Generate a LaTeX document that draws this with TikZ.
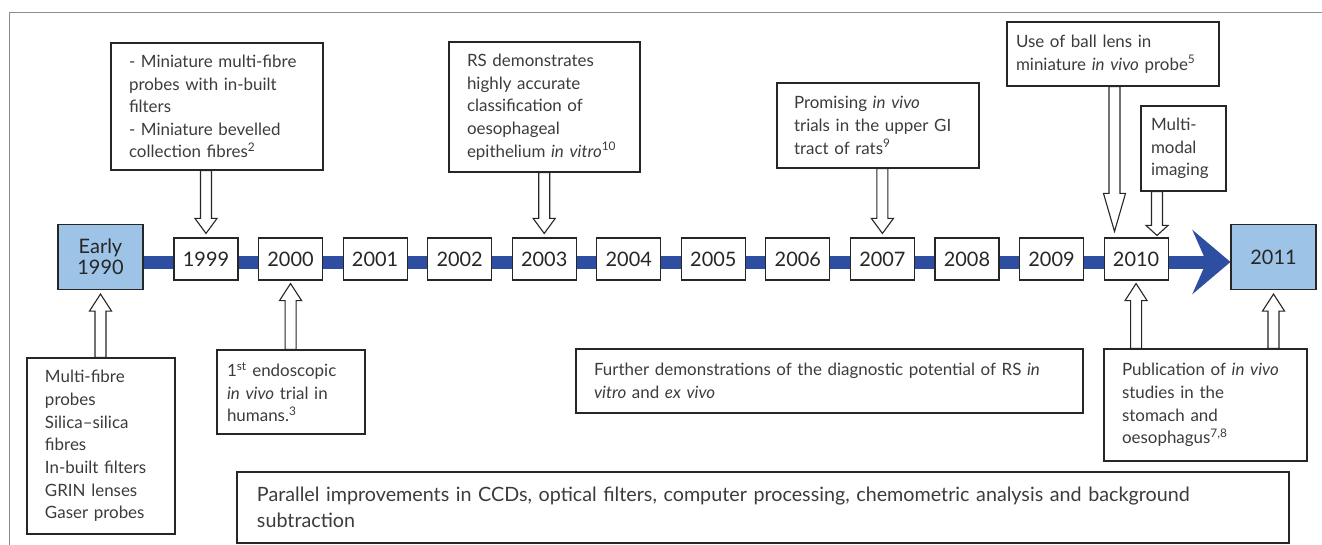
\documentclass[tikz,border=0pt]{standalone}
\usepackage{fontspec}
\setmainfont{Lato}
\usepackage{xcolor}
\usepackage{tikz}
\usetikzlibrary{calc}
\usetikzlibrary{arrows.meta}

\definecolor{boxblue}{RGB}{157,195,230}
\definecolor{barblue}{RGB}{46,78,161}
\definecolor{textgray}{RGB}{60,60,60}
\definecolor{framegray}{RGB}{140,140,140}

\newcommand{\notefont}{\fontsize{17}{22.7}\selectfont}
\newcommand{\bignotefont}{\fontsize{19.8}{26}\selectfont}
\newcommand{\yearfont}{\fontsize{20}{21}\selectfont}

% hollow block arrow: [head length]{from}{tip}
\newcommand{\blockarrow}[3][15bp]{%
  \coordinate (ba-s) at (#2);
  \coordinate (ba-t) at (#3);
  \coordinate (ba-h) at ($(ba-t)!#1!(ba-s)$);
  \draw [blockarr] ($(ba-s)!5.5bp!90:(ba-t)$) -- ($(ba-h)!5.5bp!-90:(ba-s)$)
    -- ($(ba-h)!11bp!-90:(ba-s)$) -- (ba-t) -- ($(ba-h)!11bp!90:(ba-s)$)
    -- ($(ba-h)!5.5bp!90:(ba-s)$) -- ($(ba-s)!5.5bp!-90:(ba-t)$) -- cycle;
}

\begin{document}
\begin{tikzpicture}[x=1bp, y=-1bp,
  yearbox/.style={draw=black!85, fill=white, line width=1.1bp, minimum width=64bp,
    minimum height=42bp, inner sep=0pt, font=\yearfont, text=black!85},
  keybox/.style={yearbox, fill=boxblue, minimum width=85bp, minimum height=65bp, align=center},
  notebox/.style={draw=black!85, fill=white, line width=1.1bp, align=left,
    font=\notefont, text=textgray, inner ysep=0pt},
  blockarr/.style={draw=black!85, fill=white, line width=1.1bp, line join=miter},
  timebar/.style={draw=barblue, line width=13bp, -{Stealth[length=38bp, width=64bp, inset=14bp]}}]

\useasboundingbox (0,0) rectangle (1322,545);

% frame
\draw [framegray, line width=1bp] (9,545) -- (9,13) -- (1322,13);

% time line
\node [keybox] (e1990) at (100.5,257) {Early\\1990};
\node [keybox] (y2011) at (1273.5,257) {2011};
\draw [timebar] ($(e1990.east)+(0,5)$) -- ($(y2011.west)+(0,5)$);

\foreach \yr [count=\i from 0] in {1999,...,2010}
  \node [yearbox] (y\yr) at (206+84.55*\i, 259) {\yr};

% notes above
\node [notebox, text width=176bp, inner xsep=18bp, minimum height=127bp] (fibres) at (217,106.5)
  {- Miniature multi-fibre\\probes with in-built\\filters\\- Miniature bevelled\\collection fibres\textsuperscript{2}};
\node [notebox, text width=155bp, inner xsep=18bp, minimum height=130bp] (classify) at (544.5,107)
  {RS demonstrates\\highly accurate\\classification of\\oesophageal\\epithelium \textit{in vitro}\textsuperscript{10}};
\node [notebox, text width=168bp, inner xsep=17bp, minimum height=85bp] (rats) at (878,125.5)
  {Promising \textit{in vivo}\\trials in the upper GI\\tract of rats\textsuperscript{9}};
\node [notebox, text width=194bp, inner xsep=9bp, minimum height=64bp] (balllens) at (1113,54)
  {Use of ball lens in\\miniature \textit{in vivo} probe\textsuperscript{5}};
\node [notebox, text width=65bp, inner xsep=10bp, minimum height=85bp] (modal) at (1183.5,148.5)
  {Multi-\\modal\\imaging};

% notes below
\node [notebox, text width=112bp, inner xsep=18bp, minimum height=176bp] (probes) at (101,446)
  {Multi-fibre\\probes\\Silica--silica\\fibres\\In-built filters\\GRIN lenses\\Gaser probes};
\node [notebox, text width=128bp, inner xsep=10bp, minimum height=84bp] (humans) at (291,392)
  {1\textsuperscript{st} endoscopic\\\textit{in vivo} trial in\\humans.\textsuperscript{3}};
\node [notebox, text width=471bp, inner xsep=18bp, minimum height=64bp] (further) at (829.5,381)
  {Further demonstrations of the diagnostic potential of RS \textit{in}\\\textit{vitro} and \textit{ex vivo}};
\node [notebox, text width=167bp, inner xsep=18bp, minimum height=112bp] (publish) at (1205.5,405)
  {Publication of \textit{in vivo}\\studies in the\\stomach and\\oesophagus\textsuperscript{7,8}};
\node [notebox, font=\bignotefont, text width=1012bp, inner xsep=20bp, minimum height=71bp] (parallel) at (763,507.5)
  {Parallel improvements in CCDs, optical filters, computer processing, chemometric analysis and background\\subtraction};

% arrows
\blockarrow{y1999.north |- fibres.south}{$(y1999.north)+(0,-4)$}
\blockarrow{y2003.north |- classify.south}{$(y2003.north)+(0,-4)$}
\blockarrow{y2007.north |- rats.south}{$(y2007.north)+(0,-4)$}
\blockarrow[38bp]{$(balllens.south)+(1.5,0)$}{$(balllens.south |- y2010.north)+(1.5,-6)$}
\blockarrow[10bp]{$(modal.south)+(-26.5,0)$}{$(modal.south |- y2010.north)+(-26.5,-2)$}
\blockarrow[17bp]{e1990.south |- probes.north}{$(e1990.south)+(0,4)$}
\blockarrow[17bp]{y2000.south |- humans.north}{$(y2000.south)+(0,3)$}
\blockarrow[17bp]{y2010.south |- publish.north}{$(y2010.south)+(0,3)$}
\blockarrow[17bp]{y2011.south |- publish.north}{$(y2011.south)+(0,4)$}
\end{tikzpicture}
\end{document}
